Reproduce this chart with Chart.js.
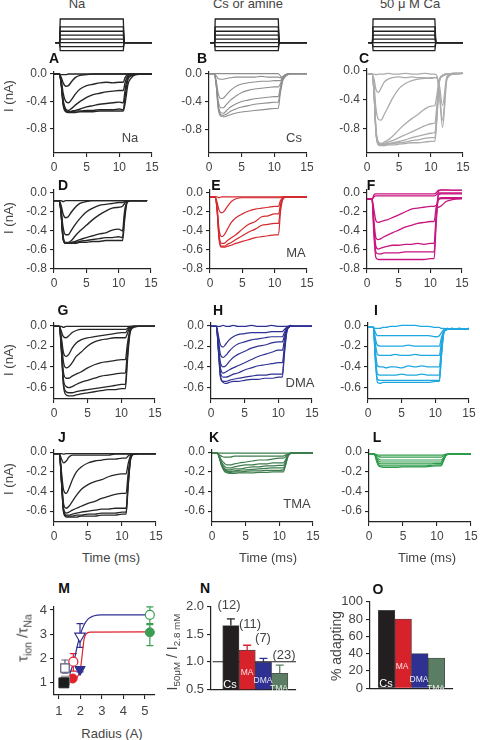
<!DOCTYPE html>
<html><head><meta charset="utf-8">
<script src="https://cdn.jsdelivr.net/npm/chart.js@4/dist/chart.umd.min.js"></script>
<style>
html,body{margin:0;padding:0;background:#fff;}
#stage{position:relative;width:480px;height:740px;overflow:hidden;font-family:"Liberation Sans",Arial,Helvetica,sans-serif;}
.t{position:absolute;transform:translate(-50%,-50%);white-space:nowrap;color:#444;font-size:13px;line-height:1;z-index:5;}
.b{font-weight:bold;color:#111;font-size:14px;}
.v{transform:translate(-50%,-50%) rotate(-90deg);}
.w{color:#fff;font-size:8.5px;}
sub{font-size:70%;vertical-align:-0.35em;line-height:0;}
</style></head><body>
<div id="stage">
<div class="t" style="left:77px;top:3px">Na</div>
<div class="t" style="left:248px;top:3px">Cs or amine</div>
<div class="t" style="left:410px;top:3px">50 μ M Ca</div>

<div class="t b" style="left:54px;top:58px">A</div>
<div class="t b" style="left:202px;top:58px">B</div>
<div class="t b" style="left:364px;top:58px">C</div>
<div class="t b" style="left:63px;top:185px">D</div>
<div class="t b" style="left:216px;top:185px">E</div>
<div class="t b" style="left:371px;top:185px">F</div>
<div class="t b" style="left:63px;top:310px">G</div>
<div class="t b" style="left:218px;top:310px">H</div>
<div class="t b" style="left:376px;top:310px">I</div>
<div class="t b" style="left:62px;top:437px">J</div>
<div class="t b" style="left:214px;top:437px">K</div>
<div class="t b" style="left:377px;top:437px">L</div>
<div class="t b" style="left:64px;top:588px">M</div>
<div class="t b" style="left:205px;top:588px">N</div>
<div class="t b" style="left:378px;top:589px">O</div>

<div class="t" style="left:130px;top:137px">Na</div>
<div class="t" style="left:294px;top:137px">Cs</div>
<div class="t" style="left:296px;top:252px">MA</div>
<div class="t" style="left:300px;top:382px">DMA</div>
<div class="t" style="left:297px;top:503px">TMA</div>

<div class="t v" style="left:8px;top:96px">I (nA)</div>
<div class="t v" style="left:8px;top:218px">I (nA)</div>
<div class="t v" style="left:8px;top:360px">I (nA)</div>
<div class="t v" style="left:8px;top:479px">I (nA)</div>

<div class="t" style="left:111px;top:557px">Time (ms)</div>
<div class="t" style="left:268px;top:557px">Time (ms)</div>
<div class="t" style="left:427px;top:557px">Time (ms)</div>

<div class="t" style="left:112px;top:733px">Radius (A)</div>
<div class="t v" style="left:22px;top:638px;font-size:15px">τ<sub>ion</sub> /τ<sub>Na</sub></div>

<div class="t v" style="left:172px;top:652px;font-size:14px">I<sub>50μM</sub> / I<sub>2.8 mM</sub></div>
<div class="t" style="left:229px;top:604px">(12)</div>
<div class="t" style="left:250px;top:623px">(11)</div>
<div class="t" style="left:263px;top:637px">(7)</div>
<div class="t" style="left:284px;top:654px">(23)</div>
<div class="t w" style="left:230px;top:684px;font-size:11px">Cs</div>
<div class="t w" style="left:247px;top:672px;color:#fbe0e3">MA</div>
<div class="t w" style="left:263px;top:680px;color:#e8e8f8">DMA</div>
<div class="t w" style="left:279px;top:688px;color:#e6efe6">TMA</div>

<div class="t v" style="left:336px;top:646px;font-size:14px">% adapting</div>
<div class="t w" style="left:386px;top:683px;font-size:11px">Cs</div>
<div class="t w" style="left:402px;top:666px;color:#fbe0e3">MA</div>
<div class="t w" style="left:419px;top:679px;color:#e8e8f8">DMA</div>
<div class="t w" style="left:436px;top:688px;color:#e6efe6">TMA</div>
</div>
<script>
// ---------------- data ----------------
const TIME   = [0,0.8,1.1,1.4,1.8,2.2,2.7,3.3,4,5,6,7,8,9,10,10.6,10.9,11.3,11.8,12.5,13.5,15];
const TIME_D = [0,0.8,1.1,1.4,1.8,2.2,2.7,3.3,4,5,6,7,8,9,10,10.6,10.9,11.3,11.8,12.5,13.5,14.4];
const X_TICKS = [0,5,10,15];
const Y_TICKS_ROW1 = [0,-0.4,-0.8];
const Y_TICKS_ROW2 = [0,-0.2,-0.4,-0.6,-0.8];
const Y_TICKS_ROW34 = [0,-0.2,-0.4,-0.6];

const PROTOCOL_TIMES = [0.2,0.85,0.95,10.6,10.75,15];
const PROTOCOL_LEVELS = [60,40,29,19,9,0,-10,-20];

const TRACES_A = [
 [0,0,-0.01,-0.01,-0.01,0,0,0,0,0,0,0,0,0,0,0,0,0,0,0,0,0],
 [0,0,-0.05,-0.13,-0.18,-0.17,-0.11,-0.05,-0.02,-0.01,0,0,0,0,0,0,0,0,0,0,0,0],
 [0,0,-0.09,-0.28,-0.4,-0.42,-0.37,-0.29,-0.22,-0.17,-0.15,-0.13,-0.12,-0.13,-0.12,-0.12,-0.05,-0.01,0,0,0,0],
 [0,0,-0.12,-0.38,-0.51,-0.53,-0.5,-0.45,-0.4,-0.34,-0.3,-0.28,-0.26,-0.25,-0.24,-0.24,-0.12,-0.03,-0.01,0,0,0],
 [0,0,-0.13,-0.41,-0.53,-0.55,-0.54,-0.53,-0.51,-0.48,-0.46,-0.44,-0.43,-0.42,-0.41,-0.42,-0.22,-0.06,-0.02,0,0,0],
 [0,0,-0.14,-0.43,-0.54,-0.55,-0.55,-0.54,-0.54,-0.53,-0.53,-0.52,-0.52,-0.52,-0.51,-0.52,-0.32,-0.09,-0.03,-0.01,0,0],
 [0,0,-0.15,-0.45,-0.55,-0.56,-0.56,-0.56,-0.55,-0.55,-0.55,-0.54,-0.54,-0.54,-0.54,-0.54,-0.42,-0.16,-0.06,-0.01,0,0]
];
const TRACES_B = [
 [0,0,0,0,0,0,0,0,0,0,0,0,0,0,0,0,-0.03,-0.08,-0.03,0,0,0],
 [0,0,-0.03,-0.07,-0.08,-0.08,-0.07,-0.06,-0.05,-0.05,-0.05,-0.05,-0.04,-0.05,-0.05,-0.05,-0.06,-0.04,-0.01,0,0,0],
 [0,0,-0.1,-0.28,-0.36,-0.35,-0.3,-0.24,-0.19,-0.15,-0.13,-0.12,-0.11,-0.11,-0.1,-0.1,-0.1,-0.05,-0.01,0,0,0],
 [0,0,-0.13,-0.38,-0.49,-0.49,-0.44,-0.38,-0.33,-0.27,-0.24,-0.22,-0.21,-0.2,-0.19,-0.19,-0.15,-0.06,-0.02,0,0,0],
 [0,0,-0.15,-0.44,-0.56,-0.57,-0.53,-0.48,-0.44,-0.4,-0.38,-0.36,-0.35,-0.34,-0.33,-0.33,-0.2,-0.07,-0.02,0,0,0],
 [0,0,-0.16,-0.47,-0.59,-0.6,-0.58,-0.54,-0.51,-0.48,-0.46,-0.44,-0.43,-0.42,-0.41,-0.41,-0.25,-0.08,-0.02,0,0,0],
 [0,0,-0.17,-0.5,-0.61,-0.62,-0.61,-0.59,-0.57,-0.55,-0.54,-0.53,-0.52,-0.51,-0.5,-0.5,-0.3,-0.1,-0.03,0,0,0]
];
const TRACES_C = [
 [-0.05,-0.05,-0.05,-0.06,-0.05,-0.05,-0.05,-0.04,-0.05,-0.05,-0.04,-0.05,-0.05,-0.04,-0.05,-0.05,-0.07,-0.3,-0.78,-0.12,-0.05,-0.04],
 [-0.05,-0.05,-0.12,-0.26,-0.3,-0.24,-0.16,-0.12,-0.1,-0.09,-0.1,-0.09,-0.1,-0.1,-0.11,-0.1,-0.1,-0.3,-0.68,-0.1,-0.05,-0.04],
 [-0.05,-0.05,-0.2,-0.52,-0.67,-0.68,-0.6,-0.5,-0.38,-0.25,-0.18,-0.14,-0.12,-0.11,-0.1,-0.1,-0.1,-0.2,-0.48,-0.08,-0.05,-0.04],
 [-0.05,-0.05,-0.3,-0.8,-0.98,-1.0,-0.98,-0.95,-0.9,-0.81,-0.73,-0.66,-0.6,-0.53,-0.49,-0.48,-0.35,-0.12,-0.08,-0.05,-0.05,-0.04],
 [-0.05,-0.05,-0.3,-0.82,-1.0,-1.01,-1.0,-0.98,-0.96,-0.92,-0.88,-0.84,-0.8,-0.76,-0.73,-0.72,-0.5,-0.14,-0.07,-0.05,-0.04,-0.04],
 [-0.05,-0.05,-0.31,-0.84,-1.01,-1.02,-1.01,-1.0,-0.99,-0.97,-0.95,-0.92,-0.9,-0.88,-0.86,-0.85,-0.6,-0.15,-0.07,-0.05,-0.04,-0.04],
 [-0.05,-0.05,-0.31,-0.85,-1.02,-1.02,-1.02,-1.01,-1.0,-0.99,-0.98,-0.96,-0.95,-0.93,-0.92,-0.92,-0.65,-0.15,-0.07,-0.05,-0.04,-0.04],
 [-0.05,-0.05,-0.32,-0.86,-1.02,-1.03,-1.03,-1.02,-1.02,-1.01,-1.0,-0.99,-0.99,-0.98,-0.97,-0.97,-0.7,-0.16,-0.07,-0.05,-0.04,-0.04]
];
const TRACES_D = [
 [-0.08,-0.08,-0.08,-0.09,-0.08,-0.08,-0.08,-0.08,-0.08,-0.08,-0.08,-0.08,-0.08,-0.08,-0.08,-0.08,-0.08,-0.08,-0.08,-0.08,-0.08,-0.08],
 [-0.08,-0.08,-0.13,-0.22,-0.26,-0.25,-0.2,-0.15,-0.11,-0.09,-0.08,-0.08,-0.08,-0.08,-0.08,-0.08,-0.08,-0.08,-0.08,-0.08,-0.08,-0.08],
 [-0.08,-0.08,-0.18,-0.36,-0.44,-0.44,-0.39,-0.33,-0.27,-0.2,-0.16,-0.13,-0.12,-0.11,-0.1,-0.1,-0.09,-0.08,-0.08,-0.08,-0.08,-0.08],
 [-0.08,-0.08,-0.2,-0.45,-0.52,-0.52,-0.5,-0.45,-0.4,-0.34,-0.28,-0.23,-0.19,-0.16,-0.15,-0.14,-0.11,-0.08,-0.08,-0.08,-0.08,-0.08],
 [-0.08,-0.08,-0.21,-0.47,-0.53,-0.53,-0.52,-0.51,-0.49,-0.47,-0.45,-0.43,-0.42,-0.39,-0.38,-0.4,-0.2,-0.09,-0.08,-0.08,-0.08,-0.08],
 [-0.08,-0.08,-0.21,-0.48,-0.53,-0.53,-0.53,-0.52,-0.51,-0.5,-0.49,-0.48,-0.47,-0.47,-0.46,-0.47,-0.25,-0.1,-0.08,-0.08,-0.08,-0.08],
 [-0.08,-0.08,-0.22,-0.48,-0.53,-0.53,-0.53,-0.53,-0.52,-0.52,-0.51,-0.51,-0.5,-0.5,-0.5,-0.5,-0.3,-0.1,-0.08,-0.08,-0.08,-0.08]
];
const TRACES_E = [
 [-0.04,-0.04,-0.04,-0.05,-0.04,-0.04,-0.04,-0.04,-0.04,-0.04,-0.04,-0.04,-0.04,-0.04,-0.04,-0.04,-0.04,-0.04,-0.04,-0.04,-0.04,-0.04],
 [-0.04,-0.04,-0.1,-0.18,-0.21,-0.19,-0.14,-0.09,-0.06,-0.05,-0.05,-0.05,-0.05,-0.05,-0.05,-0.05,-0.05,-0.04,-0.04,-0.04,-0.04,-0.04],
 [-0.04,-0.04,-0.15,-0.38,-0.46,-0.44,-0.38,-0.31,-0.26,-0.22,-0.19,-0.17,-0.16,-0.15,-0.14,-0.14,-0.08,-0.05,-0.04,-0.04,-0.04,-0.04],
 [-0.04,-0.04,-0.17,-0.44,-0.53,-0.53,-0.5,-0.47,-0.44,-0.38,-0.33,-0.3,-0.25,-0.24,-0.22,-0.22,-0.12,-0.05,-0.04,-0.04,-0.04,-0.04],
 [-0.04,-0.04,-0.18,-0.47,-0.56,-0.56,-0.54,-0.52,-0.49,-0.45,-0.41,-0.38,-0.34,-0.33,-0.32,-0.32,-0.15,-0.06,-0.04,-0.04,-0.04,-0.04],
 [-0.04,-0.04,-0.19,-0.49,-0.57,-0.57,-0.56,-0.55,-0.53,-0.51,-0.49,-0.47,-0.46,-0.45,-0.44,-0.44,-0.2,-0.06,-0.04,-0.04,-0.04,-0.04]
];
const TRACES_F = [
 [-0.065,-0.065,-0.02,-0.01,-0.01,-0.01,-0.01,-0.01,-0.01,-0.01,-0.01,-0.01,-0.01,-0.01,-0.01,-0.01,0.0,0.03,0.035,0.035,0.03,0.03],
 [-0.065,-0.065,-0.04,-0.03,-0.03,-0.03,-0.03,-0.03,-0.03,-0.03,-0.03,-0.03,-0.03,-0.03,-0.03,-0.03,-0.02,0.0,0.0,0.0,0.0,0.0],
 [-0.065,-0.065,-0.18,-0.29,-0.31,-0.3,-0.29,-0.28,-0.26,-0.23,-0.2,-0.17,-0.16,-0.15,-0.14,-0.14,-0.13,-0.15,-0.13,-0.09,-0.07,-0.06],
 [-0.065,-0.065,-0.3,-0.47,-0.49,-0.48,-0.46,-0.44,-0.42,-0.39,-0.36,-0.34,-0.32,-0.31,-0.3,-0.3,-0.16,-0.06,-0.05,-0.05,-0.05,-0.05],
 [-0.065,-0.065,-0.35,-0.56,-0.59,-0.58,-0.57,-0.56,-0.55,-0.55,-0.54,-0.54,-0.53,-0.54,-0.53,-0.53,-0.26,-0.07,-0.06,-0.06,-0.06,-0.06],
 [-0.065,-0.065,-0.4,-0.62,-0.64,-0.64,-0.63,-0.63,-0.63,-0.63,-0.62,-0.62,-0.62,-0.62,-0.62,-0.62,-0.3,-0.02,-0.01,-0.01,-0.01,-0.01],
 [-0.065,-0.065,-0.45,-0.68,-0.7,-0.7,-0.7,-0.7,-0.7,-0.7,-0.7,-0.7,-0.7,-0.7,-0.69,-0.69,-0.35,0.02,0.03,0.03,0.03,0.03]
];
const TRACES_G = [
 [-0.01,-0.01,-0.01,-0.02,-0.01,-0.01,-0.01,-0.01,-0.01,-0.01,-0.01,-0.01,-0.01,-0.01,-0.01,-0.01,-0.01,-0.01,-0.01,-0.01,-0.01,-0.01],
 [-0.01,-0.01,-0.06,-0.11,-0.12,-0.1,-0.07,-0.05,-0.04,-0.04,-0.04,-0.04,-0.04,-0.04,-0.04,-0.04,-0.03,-0.01,-0.01,-0.01,-0.01,-0.01],
 [-0.01,-0.01,-0.12,-0.26,-0.3,-0.28,-0.22,-0.17,-0.14,-0.12,-0.11,-0.1,-0.09,-0.08,-0.07,-0.07,-0.05,-0.02,-0.01,-0.01,-0.01,-0.01],
 [-0.01,-0.01,-0.15,-0.35,-0.41,-0.4,-0.36,-0.3,-0.26,-0.2,-0.16,-0.14,-0.13,-0.12,-0.12,-0.12,-0.08,-0.02,-0.01,-0.01,-0.01,-0.01],
 [-0.01,-0.01,-0.2,-0.45,-0.51,-0.51,-0.49,-0.47,-0.45,-0.41,-0.38,-0.36,-0.35,-0.34,-0.33,-0.33,-0.18,-0.04,-0.01,-0.01,-0.01,-0.01],
 [-0.01,-0.01,-0.22,-0.52,-0.59,-0.6,-0.59,-0.57,-0.55,-0.53,-0.51,-0.49,-0.48,-0.47,-0.46,-0.46,-0.25,-0.05,-0.01,-0.01,-0.01,-0.01],
 [-0.01,-0.01,-0.24,-0.56,-0.64,-0.65,-0.65,-0.64,-0.63,-0.62,-0.61,-0.6,-0.59,-0.58,-0.57,-0.57,-0.3,-0.06,-0.02,-0.01,-0.01,-0.01],
 [-0.01,-0.01,-0.25,-0.58,-0.67,-0.68,-0.68,-0.67,-0.66,-0.65,-0.64,-0.63,-0.62,-0.62,-0.61,-0.61,-0.35,-0.07,-0.02,-0.01,-0.01,-0.01]
];
const TRACES_H = [
 [-0.01,-0.01,-0.01,-0.01,0,-0.01,-0.01,0,-0.01,-0.01,0,-0.01,-0.01,0,-0.01,-0.01,-0.01,-0.01,0,-0.01,-0.01,-0.01],
 [-0.01,-0.01,-0.1,-0.19,-0.21,-0.18,-0.14,-0.11,-0.09,-0.08,-0.07,-0.07,-0.07,-0.06,-0.06,-0.06,-0.04,-0.02,-0.01,-0.01,-0.01,-0.01],
 [-0.01,-0.01,-0.14,-0.28,-0.31,-0.29,-0.25,-0.21,-0.18,-0.16,-0.14,-0.13,-0.12,-0.11,-0.11,-0.11,-0.07,-0.02,-0.01,-0.01,-0.01,-0.01],
 [-0.01,-0.01,-0.18,-0.36,-0.4,-0.39,-0.35,-0.31,-0.28,-0.25,-0.22,-0.2,-0.19,-0.17,-0.16,-0.16,-0.1,-0.03,-0.01,-0.01,-0.01,-0.01],
 [-0.01,-0.01,-0.2,-0.41,-0.46,-0.45,-0.43,-0.41,-0.39,-0.36,-0.33,-0.3,-0.28,-0.26,-0.24,-0.24,-0.14,-0.03,-0.01,-0.01,-0.01,-0.01],
 [-0.01,-0.01,-0.22,-0.45,-0.5,-0.5,-0.49,-0.47,-0.46,-0.43,-0.41,-0.39,-0.38,-0.37,-0.36,-0.36,-0.2,-0.04,-0.01,-0.01,-0.01,-0.01],
 [-0.01,-0.01,-0.24,-0.49,-0.54,-0.54,-0.53,-0.52,-0.51,-0.5,-0.49,-0.48,-0.48,-0.47,-0.47,-0.47,-0.25,-0.05,-0.01,-0.01,-0.01,-0.01],
 [-0.01,-0.01,-0.25,-0.5,-0.55,-0.56,-0.55,-0.54,-0.54,-0.53,-0.52,-0.52,-0.51,-0.51,-0.5,-0.5,-0.28,-0.05,-0.01,-0.01,-0.01,-0.01]
];
const TRACES_I = [
 [-0.02,-0.02,-0.03,-0.03,-0.03,-0.02,-0.02,-0.01,-0.01,0.0,0.0,0.0,-0.01,-0.01,-0.02,-0.02,-0.03,-0.03,-0.04,-0.03,-0.04,-0.03],
 [-0.02,-0.02,-0.07,-0.1,-0.1,-0.1,-0.1,-0.1,-0.1,-0.1,-0.1,-0.1,-0.1,-0.1,-0.11,-0.1,-0.07,-0.04,-0.03,-0.04,-0.03,-0.04],
 [-0.02,-0.02,-0.13,-0.19,-0.2,-0.2,-0.2,-0.2,-0.2,-0.2,-0.19,-0.2,-0.2,-0.2,-0.2,-0.2,-0.12,-0.05,-0.03,-0.04,-0.03,-0.04],
 [-0.02,-0.02,-0.18,-0.28,-0.29,-0.29,-0.29,-0.29,-0.28,-0.29,-0.29,-0.28,-0.29,-0.29,-0.29,-0.29,-0.16,-0.05,-0.04,-0.03,-0.04,-0.03],
 [-0.02,-0.02,-0.25,-0.39,-0.4,-0.4,-0.41,-0.4,-0.4,-0.41,-0.39,-0.4,-0.39,-0.4,-0.4,-0.4,-0.22,-0.06,-0.04,-0.03,-0.04,-0.04],
 [-0.02,-0.02,-0.3,-0.47,-0.48,-0.48,-0.48,-0.48,-0.48,-0.47,-0.48,-0.48,-0.47,-0.48,-0.48,-0.48,-0.26,-0.06,-0.04,-0.04,-0.03,-0.04],
 [-0.02,-0.02,-0.33,-0.52,-0.53,-0.53,-0.53,-0.53,-0.53,-0.53,-0.53,-0.53,-0.53,-0.53,-0.53,-0.53,-0.29,-0.06,-0.04,-0.03,-0.04,-0.03],
 [-0.02,-0.02,-0.35,-0.55,-0.56,-0.55,-0.55,-0.55,-0.55,-0.55,-0.55,-0.55,-0.55,-0.55,-0.54,-0.54,-0.3,-0.06,-0.04,-0.04,-0.04,-0.04]
];
const TRACES_J = [
 [-0.015,-0.015,-0.015,-0.02,-0.015,-0.015,-0.015,-0.015,-0.015,-0.015,-0.015,-0.015,-0.015,-0.015,-0.015,-0.015,-0.015,-0.015,-0.015,-0.015,-0.015,-0.015],
 [-0.015,-0.015,-0.07,-0.11,-0.09,-0.05,-0.03,-0.03,-0.03,-0.03,-0.03,-0.03,-0.03,-0.02,-0.02,-0.02,-0.02,-0.015,-0.015,-0.015,-0.015,-0.015],
 [-0.015,-0.015,-0.2,-0.38,-0.42,-0.37,-0.28,-0.2,-0.15,-0.11,-0.09,-0.08,-0.07,-0.07,-0.06,-0.06,-0.04,-0.02,-0.015,-0.015,-0.015,-0.015],
 [-0.015,-0.015,-0.25,-0.52,-0.57,-0.55,-0.5,-0.44,-0.38,-0.33,-0.3,-0.28,-0.25,-0.23,-0.22,-0.22,-0.12,-0.03,-0.015,-0.015,-0.015,-0.015],
 [-0.015,-0.015,-0.28,-0.57,-0.62,-0.61,-0.59,-0.57,-0.55,-0.52,-0.5,-0.47,-0.45,-0.43,-0.42,-0.42,-0.22,-0.04,-0.015,-0.015,-0.015,-0.015],
 [-0.015,-0.015,-0.29,-0.59,-0.64,-0.64,-0.63,-0.62,-0.61,-0.6,-0.59,-0.58,-0.58,-0.57,-0.57,-0.57,-0.3,-0.05,-0.02,-0.015,-0.015,-0.015],
 [-0.015,-0.015,-0.3,-0.6,-0.65,-0.65,-0.65,-0.64,-0.64,-0.63,-0.63,-0.62,-0.62,-0.62,-0.61,-0.61,-0.33,-0.06,-0.02,-0.015,-0.015,-0.015],
 [-0.015,-0.015,-0.31,-0.61,-0.66,-0.66,-0.66,-0.66,-0.65,-0.65,-0.65,-0.64,-0.64,-0.64,-0.63,-0.63,-0.36,-0.06,-0.02,-0.015,-0.015,-0.015]
];
const TRACES_K = [
 [-0.01,-0.01,-0.01,-0.01,-0.01,-0.01,-0.01,-0.01,-0.01,-0.01,-0.01,-0.01,-0.01,-0.01,-0.01,-0.01,-0.01,-0.01,-0.01,-0.01,-0.01,-0.01],
 [-0.01,-0.01,-0.03,-0.04,-0.05,-0.05,-0.05,-0.04,-0.04,-0.04,-0.04,-0.04,-0.04,-0.04,-0.04,-0.04,-0.03,-0.02,-0.01,-0.01,-0.01,-0.01],
 [-0.01,-0.01,-0.04,-0.08,-0.11,-0.13,-0.13,-0.12,-0.11,-0.1,-0.09,-0.08,-0.08,-0.07,-0.06,-0.06,-0.05,-0.02,-0.01,-0.01,-0.01,-0.01],
 [-0.01,-0.01,-0.05,-0.1,-0.14,-0.16,-0.16,-0.15,-0.14,-0.13,-0.13,-0.12,-0.12,-0.11,-0.11,-0.11,-0.08,-0.03,-0.01,-0.01,-0.01,-0.01],
 [-0.01,-0.01,-0.05,-0.11,-0.16,-0.18,-0.18,-0.17,-0.17,-0.16,-0.15,-0.15,-0.14,-0.14,-0.135,-0.135,-0.1,-0.03,-0.01,-0.01,-0.01,-0.01],
 [-0.01,-0.01,-0.06,-0.12,-0.17,-0.19,-0.195,-0.19,-0.185,-0.18,-0.175,-0.17,-0.165,-0.16,-0.16,-0.16,-0.12,-0.03,-0.01,-0.01,-0.01,-0.01],
 [-0.01,-0.01,-0.06,-0.13,-0.18,-0.2,-0.205,-0.2,-0.2,-0.195,-0.19,-0.19,-0.185,-0.185,-0.185,-0.18,-0.13,-0.04,-0.01,-0.01,-0.01,-0.01],
 [-0.01,-0.01,-0.06,-0.13,-0.19,-0.21,-0.215,-0.215,-0.21,-0.21,-0.21,-0.205,-0.205,-0.2,-0.2,-0.2,-0.14,-0.04,-0.01,-0.01,-0.01,-0.01]
];
const TRACES_L = [
 [-0.02,-0.02,-0.025,-0.03,-0.03,-0.03,-0.03,-0.03,-0.03,-0.03,-0.03,-0.03,-0.03,-0.03,-0.03,-0.03,-0.03,-0.02,-0.02,-0.02,-0.02,-0.02],
 [-0.02,-0.02,-0.035,-0.045,-0.05,-0.05,-0.05,-0.05,-0.05,-0.05,-0.05,-0.05,-0.05,-0.05,-0.05,-0.05,-0.04,-0.025,-0.02,-0.02,-0.02,-0.02],
 [-0.02,-0.02,-0.05,-0.07,-0.08,-0.08,-0.08,-0.08,-0.08,-0.08,-0.08,-0.08,-0.08,-0.08,-0.08,-0.08,-0.06,-0.03,-0.02,-0.02,-0.02,-0.02],
 [-0.02,-0.02,-0.06,-0.09,-0.1,-0.1,-0.1,-0.1,-0.1,-0.1,-0.1,-0.1,-0.1,-0.1,-0.1,-0.1,-0.07,-0.03,-0.02,-0.02,-0.02,-0.02],
 [-0.02,-0.02,-0.07,-0.11,-0.12,-0.12,-0.12,-0.12,-0.12,-0.12,-0.12,-0.12,-0.12,-0.12,-0.115,-0.115,-0.08,-0.03,-0.02,-0.02,-0.02,-0.02],
 [-0.02,-0.02,-0.08,-0.13,-0.14,-0.14,-0.14,-0.14,-0.14,-0.14,-0.14,-0.14,-0.14,-0.135,-0.13,-0.13,-0.09,-0.035,-0.02,-0.02,-0.02,-0.02],
 [-0.02,-0.02,-0.09,-0.14,-0.15,-0.155,-0.155,-0.155,-0.155,-0.15,-0.15,-0.15,-0.15,-0.145,-0.14,-0.14,-0.1,-0.035,-0.02,-0.02,-0.02,-0.02]
];

// Panel M: [x (radius, A), y (tau ratio), error low, error high]
const M_NA_FILLED   = [1.23, 1.0, null, null];
const M_CS_FILLED   = [1.3, 1.1, null, null];
const M_CS_OPEN     = [1.28, 1.61, 1.4, 1.94];
const M_MA_FILLED   = [1.64, 1.18, null, null];
const M_MA_OPEN     = [1.67, 1.87, 1.48, 2.2];
const M_DMA_OPEN    = [1.98, 2.92, 2.46, 3.44];
const M_DMA_FILLED  = [1.98, 1.55, 1.45, 1.65];
const M_TMA_OPEN    = [5.23, 3.8, 3.44, 4.13];
const M_TMA_FILLED  = [5.23, 3.08, 2.53, 3.4];
const M_FIT_OPEN_X   = [1.5, 1.7, 1.85, 2.0, 2.15, 2.35, 2.6, 3.0, 5.25];
const M_FIT_OPEN_Y   = [1.35, 1.9, 2.5, 3.0, 3.35, 3.62, 3.75, 3.8, 3.8];
const M_FIT_FILLED_X = [1.7, 1.9, 2.02, 2.1, 2.17, 2.27, 2.45, 5.25];
const M_FIT_FILLED_Y = [1.15, 1.3, 1.7, 2.3, 2.8, 3.02, 3.09, 3.1];
const M_X_TICKS = [1,2,3,4,5];
const M_Y_TICKS = [1,2,3,4];

// Panel N / O
const IONS = ['Cs','MA','DMA','TMA'];
const N_RATIO = [1.66, 1.21, 0.99, 0.79];
const N_ERR_UP = [0.12, 0.09, 0.07, 0.15];
const N_REF = [1.0, 1.0];
const N_Y_TICKS = [0.5, 1.0, 1.5, 2.0];
const O_ADAPT = [90, 80, 40, 35];
const O_Y_TICKS = [0,20,40,60,80,100];

// ---------------- styling / layout ----------------
const ION_COLORS = ['#231f20', '#d7212b', '#2e3192', '#5b7d63'];
Chart.defaults.font.family = '"Liberation Sans", Arial, Helvetica, sans-serif';
Chart.defaults.animation = false;
Chart.defaults.events = [];
Chart.defaults.plugins.legend.display = false;
Chart.defaults.plugins.tooltip.enabled = false;

function linAxis(min, max, ticks, fmt, o) {
  o = o || {};
  const show = o.show !== false;
  return {
    type: 'linear', min: min, max: max, offset: false,
    afterBuildTicks: s => { s.ticks = ticks.map(v => ({ value: v })); },
    afterFit: s => { if (s.isHorizontal()) s.height = o.fit; else s.width = o.fit; },
    ticks: { display: show, callback: fmt, color: '#444', font: { size: o.fs || 12 }, padding: o.pad == null ? 3 : o.pad, autoSkip: false, maxRotation: 0, minRotation: 0 },
    grid: { display: true, drawOnChartArea: false, drawTicks: show, tickLength: 4, color: '#222', lineWidth: 1.1, offset: false },
    border: { display: true, color: '#222', width: 1.2 }
  };
}

function place(box, pad, config, axesShown) {
  const stage = document.getElementById('stage');
  const cv = document.createElement('canvas');
  const w = Math.round(box.r - box.l) + pad.l + pad.r;
  const h = Math.round(box.b - box.t) + pad.t + pad.b;
  cv.width = w; cv.height = h;
  cv.style.cssText = 'position:absolute;left:' + (Math.round(box.l) - pad.l) + 'px;top:' + (Math.round(box.t) - pad.t) + 'px;width:' + w + 'px;height:' + h + 'px;z-index:1;';
  stage.appendChild(cv);
  config.options = config.options || {};
  config.options.responsive = false;
  config.options.maintainAspectRatio = false;
  config.options.devicePixelRatio = 1;
  config.options.layout = { autoPadding: false, padding: axesShown ?
    { top: pad.t, right: pad.r, left: 0, bottom: 0 } :
    { top: pad.t, right: pad.r, left: pad.l, bottom: pad.b } };
  return new Chart(cv.getContext('2d'), config);
}

// ---------------- protocol sketches ----------------
const PROTO_BOXES = [{l:54,r:152,t:17,b:53},{l:209,r:307,t:17,b:53},{l:367,r:463,t:17,b:53}];
PROTO_BOXES.forEach(box => {
  place(box, {l:2,r:2,t:2,b:2}, {
    type: 'line',
    data: { datasets: PROTOCOL_LEVELS.map(L => ({
      data: PROTOCOL_TIMES.map((t, i) => ({ x: t, y: (i === 2 || i === 3) ? L : 0 })),
      borderColor: '#222', borderWidth: 1.3, pointRadius: 0, tension: 0, clip: false
    })) },
    options: { scales: { x: { type: 'linear', min: 0, max: 15, display: false }, y: { type: 'linear', min: -26, max: 65, display: false } } }
  }, false);
});

// ---------------- current traces ----------------
const TRACE_PANELS = [
  { tr: TRACES_A, time: TIME,   color: '#262626', lw: 1.4, box: {l:54, t:67, r:152, b:153}, y: [-1.15, 0.04], yt: Y_TICKS_ROW1 },
  { tr: TRACES_B, time: TIME,   color: '#8e8e8e', lw: 1.1, box: {l:209,t:67, r:307, b:153}, y: [-1.14, 0.035], yt: Y_TICKS_ROW1 },
  { tr: TRACES_C, time: TIME,   color: '#ababab', lw: 1.3, box: {l:367,t:64, r:463, b:153}, y: [-1.13, 0.03], yt: Y_TICKS_ROW1 },
  { tr: TRACES_D, time: TIME_D, color: '#262626', lw: 1.4, box: {l:54, t:185,r:151, b:269}, y: [-0.8, 0.04], yt: Y_TICKS_ROW2 },
  { tr: TRACES_E, time: TIME,   color: '#d42a2f', lw: 1.2, box: {l:210,t:185,r:307, b:269}, y: [-0.8, 0.04], yt: Y_TICKS_ROW2 },
  { tr: TRACES_F, time: TIME,   color: '#c8157f', lw: 1.3, box: {l:367,t:185,r:462, b:269}, y: [-0.8, 0.04], yt: Y_TICKS_ROW2 },
  { tr: TRACES_G, time: TIME,   color: '#262626', lw: 1.3, box: {l:54, t:318,r:155, b:399}, y: [-0.71, 0.03], yt: Y_TICKS_ROW34 },
  { tr: TRACES_H, time: TIME,   color: '#2e3192', lw: 1.2, box: {l:211,t:318,r:312, b:399}, y: [-0.71, 0.03], yt: Y_TICKS_ROW34 },
  { tr: TRACES_I, time: TIME,   color: '#1fa8e0', lw: 1.3, box: {l:368,t:318,r:469, b:399}, y: [-0.71, 0.03], yt: Y_TICKS_ROW34 },
  { tr: TRACES_J, time: TIME,   color: '#262626', lw: 1.3, box: {l:54, t:445,r:156, b:522}, y: [-0.71, 0.03], yt: Y_TICKS_ROW34 },
  { tr: TRACES_K, time: TIME,   color: '#3e7c4e', lw: 1.2, box: {l:212,t:445,r:313, b:522}, y: [-0.71, 0.03], yt: Y_TICKS_ROW34 },
  { tr: TRACES_L, time: TIME,   color: '#2f9c4b', lw: 1.2, box: {l:369,t:445,r:471, b:522}, y: [-0.71, 0.03], yt: Y_TICKS_ROW34 }
];
const PAD_TR = { l: 42, r: 12, t: 6, b: 24 };
TRACE_PANELS.forEach(p => {
  place(p.box, PAD_TR, {
    type: 'line',
    data: { datasets: p.tr.map(tr => ({
      data: tr.map((v, i) => ({ x: p.time[i], y: v })),
      borderColor: p.color, borderWidth: p.lw, pointRadius: 0,
      cubicInterpolationMode: 'monotone', fill: false
    })) },
    options: { scales: {
      x: linAxis(0, 15, X_TICKS, v => String(v), { fit: PAD_TR.b }),
      y: linAxis(p.y[0], p.y[1], p.yt, v => v.toFixed(1), { fit: PAD_TR.l })
    } }
  }, true);
});

// ---------------- panel M ----------------
const errPlugin = {
  id: 'errbars',
  beforeDatasetsDraw(chart) {
    const ctx = chart.ctx, ys = chart.scales.y;
    chart.data.datasets.forEach((ds, i) => {
      const meta = chart.getDatasetMeta(i);
      ds.data.forEach((p, j) => {
        if (p.lo == null) return;
        const px = meta.data[j].x;
        const y1 = ys.getPixelForValue(p.lo), y2 = ys.getPixelForValue(p.hi);
        ctx.save(); ctx.strokeStyle = ds.borderColor; ctx.lineWidth = 1.2;
        ctx.beginPath();
        ctx.moveTo(px, y1); ctx.lineTo(px, y2);
        ctx.moveTo(px - 3.5, y1); ctx.lineTo(px + 3.5, y1);
        ctx.moveTo(px - 3.5, y2); ctx.lineTo(px + 3.5, y2);
        ctx.stroke(); ctx.restore();
      });
    });
  }
};
function mPt(a) { return [{ x: a[0], y: a[1], lo: a[2], hi: a[3] }]; }
function curve(xs, ys) { return xs.map((x, i) => ({ x: x, y: ys[i] })); }
place({l:54, t:602, r:155, b:695}, {l:40, r:10, t:6, b:24}, {
  type: 'scatter',
  data: { datasets: [
    { data: mPt(M_NA_FILLED),  pointStyle: 'rect', pointRadius: 7, backgroundColor: '#1c1c1c', borderColor: '#1c1c1c', borderWidth: 1 },
    { data: mPt(M_CS_FILLED),  pointStyle: 'rect', pointRadius: 6, backgroundColor: '#9a9a9a', borderColor: '#9a9a9a', borderWidth: 1 },
    { data: mPt(M_CS_OPEN),    pointStyle: 'rect', pointRadius: 6, backgroundColor: '#fff', borderColor: '#5a5c78', borderWidth: 1.2 },
    { data: mPt(M_MA_FILLED),  pointStyle: 'circle', pointRadius: 4.5, backgroundColor: '#e0202a', borderColor: '#e0202a', borderWidth: 1 },
    { data: mPt(M_MA_OPEN),    pointStyle: 'circle', pointRadius: 4.5, backgroundColor: '#fff', borderColor: '#e0202a', borderWidth: 1.2 },
    { data: mPt(M_DMA_OPEN),   pointStyle: 'triangle', rotation: 180, pointRadius: 6, backgroundColor: '#fff', borderColor: '#2e3192', borderWidth: 1.2 },
    { data: mPt(M_DMA_FILLED), pointStyle: 'triangle', rotation: 180, pointRadius: 6, backgroundColor: '#2e3192', borderColor: '#2e3192', borderWidth: 1 },
    { data: mPt(M_TMA_OPEN),   pointStyle: 'circle', pointRadius: 4.5, backgroundColor: '#fff', borderColor: '#3a9e55', borderWidth: 1.2 },
    { data: mPt(M_TMA_FILLED), pointStyle: 'circle', pointRadius: 4.5, backgroundColor: '#3a9e55', borderColor: '#3a9e55', borderWidth: 1 },
    { data: curve(M_FIT_OPEN_X, M_FIT_OPEN_Y), showLine: true, pointRadius: 0, borderColor: '#2e3192', borderWidth: 1.2, cubicInterpolationMode: 'monotone' },
    { data: curve(M_FIT_FILLED_X, M_FIT_FILLED_Y), showLine: true, pointRadius: 0, borderColor: '#e0202a', borderWidth: 1.2, cubicInterpolationMode: 'monotone' }
  ] },
  options: { scales: {
    x: linAxis(0.77, 5.47, M_X_TICKS, v => String(v), { fit: 24, fs: 13, pad: 5 }),
    y: linAxis(0.5, 4.13, M_Y_TICKS, v => String(v), { fit: 40, fs: 13 })
  } },
  plugins: [errPlugin]
}, true);

// ---------------- panels N and O ----------------
const barErrPlugin = {
  id: 'barErr',
  afterDatasetsDraw(chart) {
    const ctx = chart.ctx, ys = chart.scales.y;
    chart.data.datasets.forEach((ds, i) => {
      if (!ds.errUp) return;
      const meta = chart.getDatasetMeta(i);
      meta.data.forEach((el, j) => {
        const top = ys.getPixelForValue(ds.data[j].y + ds.errUp[j]);
        ctx.save(); ctx.strokeStyle = ds.backgroundColor[j]; ctx.lineWidth = 1.3;
        ctx.beginPath();
        ctx.moveTo(el.x, el.y); ctx.lineTo(el.x, top);
        ctx.moveTo(el.x - 4, top); ctx.lineTo(el.x + 4, top);
        ctx.stroke(); ctx.restore();
      });
    });
  }
};
function bars(vals) { return vals.map((v, i) => ({ x: i + 1, y: v })); }
place({l:211, t:602, r:296, b:694}, {l:40, r:6, t:6, b:6}, {
  type: 'bar',
  data: { datasets: [
    { type: 'bar', data: bars(N_RATIO), errUp: N_ERR_UP, backgroundColor: ION_COLORS, borderColor: 'rgba(40,40,40,0.85)', borderWidth: 0.8, barPercentage: 1, categoryPercentage: 1, order: 1 },
    { type: 'line', data: [{ x: -0.12, y: N_REF[0] }, { x: 5.0, y: N_REF[1] }], borderColor: '#222', borderWidth: 1.2, pointRadius: 0, order: 2 }
  ] },
  options: { scales: {
    x: linAxis(-0.22, 5.0, [], v => '', { fit: 6, show: false }),
    y: linAxis(0.5, 2.0, N_Y_TICKS, v => v.toFixed(1), { fit: 40, fs: 13 })
  } },
  plugins: [barErrPlugin]
}, true);

place({l:370, t:597, r:453, b:693}, {l:40, r:6, t:6, b:6}, {
  type: 'bar',
  data: { datasets: [
    { data: bars(O_ADAPT), backgroundColor: ION_COLORS, borderColor: 'rgba(40,40,40,0.85)', borderWidth: 0.8, barPercentage: 1, categoryPercentage: 1 }
  ] },
  options: { scales: {
    x: linAxis(0, 5.0, [], v => '', { fit: 6, show: false }),
    y: linAxis(0, 100, O_Y_TICKS, v => String(v), { fit: 40, fs: 13 })
  } }
}, true);
</script>
</body></html>
